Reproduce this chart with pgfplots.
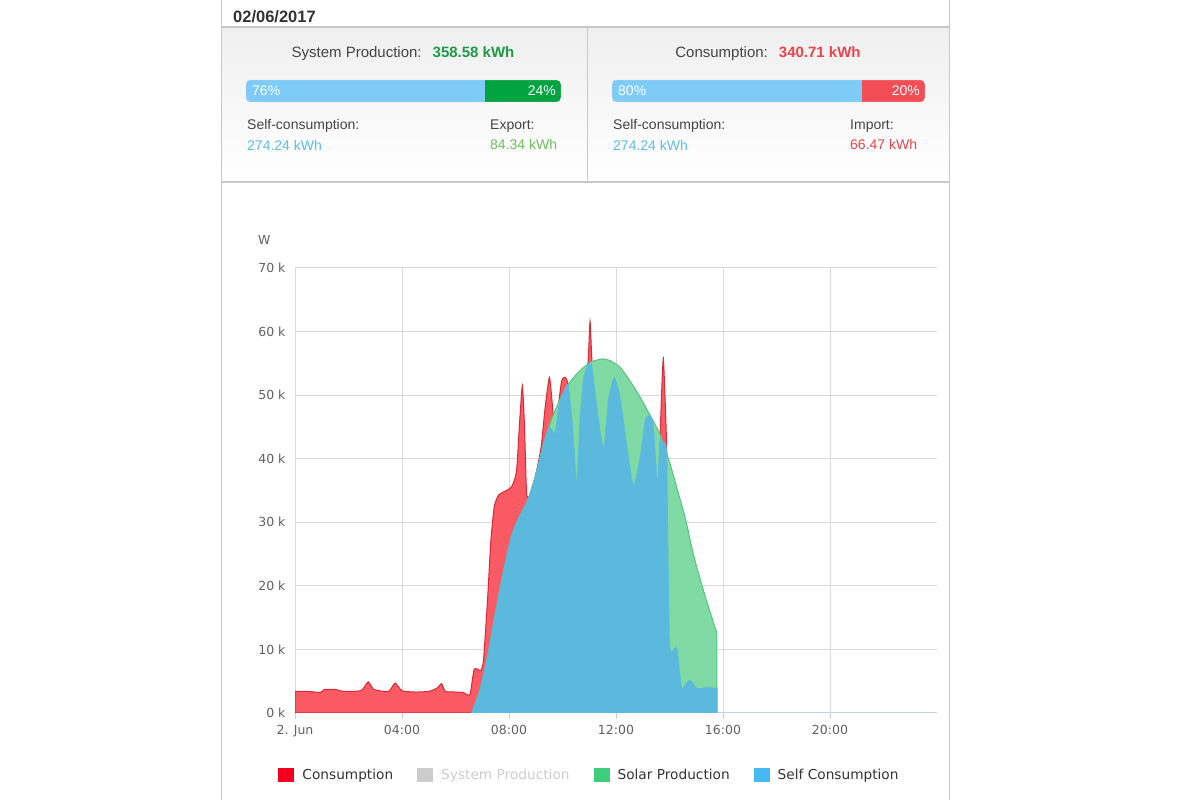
\documentclass[border=0pt]{standalone}
\usepackage{fontspec}
\setmainfont{Liberation Sans}
\newfontfamily\dejavu{DejaVu Sans}
\usepackage{pgfplots}
\pgfplotsset{compat=1.18}
\definecolor{bordergray}{HTML}{C8C8C8}
\definecolor{pnl}{HTML}{EFEFEF}
\definecolor{labtext}{HTML}{444444}
\definecolor{barblue}{HTML}{7DCBF6}
\definecolor{bargreen}{HTML}{01A43F}
\definecolor{barred}{HTML}{F34D55}
\definecolor{valgreen}{HTML}{1E9A44}
\definecolor{valgreen2}{HTML}{6EBF5B}
\definecolor{valblue}{HTML}{5BBFE9}
\definecolor{valred}{HTML}{E8454E}
\definecolor{redfill}{HTML}{FA5A63}
\definecolor{redline}{HTML}{D62A3A}
\definecolor{greenfill}{HTML}{7FDBA3}
\definecolor{greenline}{HTML}{59C482}
\definecolor{bluefill}{HTML}{5BB9DE}
\definecolor{legred}{HTML}{F4001E}
\definecolor{leggray}{HTML}{CCCCCC}
\definecolor{leggreen}{HTML}{3DCD7B}
\definecolor{legblue}{HTML}{48B8F0}
\definecolor{legtext}{HTML}{333333}
\definecolor{gridgray}{HTML}{D9D9D9}
\definecolor{axisblue}{HTML}{C0D0E0}
\definecolor{tickgray}{HTML}{606060}

\pgfplotstableread{
t v
0.00 3.4
0.45 3.4
0.75 3.3
0.95 3.2
1.10 3.7
1.50 3.7
1.80 3.4
2.20 3.4
2.50 3.6
2.74 4.9
2.95 3.7
3.50 3.4
3.74 4.7
4.00 3.5
4.50 3.3
5.00 3.4
5.30 3.9
5.48 4.6
5.62 3.4
6.00 3.3
6.30 3.2
6.54 2.9
6.70 6.9
6.95 6.7
7.05 8.5
7.20 18
7.32 27
7.45 32.5
7.62 34.3
7.90 35
8.10 35.6
8.28 38
8.40 46
8.50 51.5
8.58 45
8.66 34.5
8.80 34.4
9.00 37.5
9.20 41.8
9.35 48
9.51 52.8
9.62 48.5
9.72 44
9.85 48.5
9.97 52.3
10.10 52.8
10.22 51.5
10.38 45
10.53 36.2
10.65 46
10.78 52.5
10.95 55.0
11.03 61.6
11.10 55.5
11.25 49.3
11.53 41.6
11.72 49.3
11.93 52.8
12.15 49.7
12.40 42.3
12.65 35.8
12.90 40.2
13.09 46
13.25 46.8
13.40 45.1
13.55 36.1
13.64 43
13.72 52
13.77 55.8
13.83 50
13.90 40.5
14.00 11
14.27 10.3
14.45 4.0
14.60 4.5
14.77 5.2
15.02 3.9
15.39 4.0
15.77 3.9
}\consumption

\pgfplotstableread{
t v
6.60 0
6.90 3.5
7.20 9
7.50 16
7.80 22.5
8.10 28
8.40 31
8.70 33.5
9.00 37.5
9.30 42.5
9.60 46.3
9.90 49.3
10.20 51.6
10.50 53.2
10.80 54.4
11.10 55.3
11.50 55.7
11.80 55.4
12.15 54.4
12.50 52.4
12.90 49.7
13.25 47
13.64 43.9
14.00 39.5
14.27 35.5
14.60 30.5
14.89 25
15.15 21
15.39 17.6
15.60 14.8
15.77 12.6
}\solar

\pgfplotstableread{
t v
6.60 0
6.90 3.5
7.20 9
7.50 16
7.80 22.5
8.10 28
8.40 31
8.70 33.5
9.00 37.5
9.30 42.5
9.50 45
9.72 44
9.85 48
9.97 49.8
10.10 51
10.22 51.5
10.38 45
10.53 36.2
10.65 46
10.78 52.5
10.95 54.8
11.03 55.0
11.10 54.5
11.25 49.3
11.53 41.6
11.72 49.3
11.93 52.8
12.15 49.7
12.40 42.3
12.65 35.8
12.90 40.2
13.09 46
13.25 46.8
13.40 45.1
13.55 36.1
13.64 43
13.77 42.4
13.90 40.5
14.00 11
14.27 10.3
14.45 4.0
14.60 4.5
14.77 5.2
15.02 3.9
15.39 4.0
15.77 3.9
}\selfcons

\begin{document}
\begin{tikzpicture}[x=1pt,y=1pt]
\path[use as bounding box] (0,0) rectangle (1200,800);
% header panel
\shade[top color=pnl, bottom color=white] (221,618) rectangle (949,773);
\draw[bordergray, line width=1pt] (221,0) -- (221,800);
\draw[bordergray, line width=1pt] (949,0) -- (949,800);
\draw[bordergray, line width=1.5pt] (221,773) -- (949,773);
\draw[bordergray, line width=1.5pt] (221,618) -- (949,618);
\draw[bordergray, line width=1pt] (587,618) -- (587,773);
\node[anchor=west, inner sep=0pt, text=legtext, font=\bfseries\fontsize{16.5}{19}\selectfont] at (233,783.5) {02/06/2017};

\node[anchor=center, font=\fontsize{15}{18}\selectfont, text=labtext] at (403,746.5)
  {System Production:\hspace{11pt}\textcolor{valgreen}{\bfseries 358.58 kWh}};
\node[anchor=center, font=\fontsize{15}{18}\selectfont, text=labtext] at (768,746.5)
  {Consumption:\hspace{11pt}\textcolor{valred}{\bfseries 340.71 kWh}};

% production bar
\begin{scope}
\clip[rounded corners=4pt] (246pt,698pt) rectangle (561pt,720pt);
\begin{axis}[at={(246pt,698pt)}, anchor=south west, scale only axis, width=315pt, height=22pt,
  xbar stacked, bar width=22pt, xmin=0, xmax=100, ymin=0.5, ymax=1.5, hide axis]
\addplot[fill=barblue, draw=none] coordinates {(76,1)};
\addplot[fill=bargreen, draw=none] coordinates {(24,1)};
\end{axis}
\end{scope}
\draw[rounded corners=4pt, black!12] (246,698) rectangle (561,720);
% consumption bar
\begin{scope}
\clip[rounded corners=4pt] (612pt,698pt) rectangle (925pt,720pt);
\begin{axis}[at={(612pt,698pt)}, anchor=south west, scale only axis, width=313pt, height=22pt,
  xbar stacked, bar width=22pt, xmin=0, xmax=100, ymin=0.5, ymax=1.5, hide axis]
\addplot[fill=barblue, draw=none] coordinates {(80,1)};
\addplot[fill=barred, draw=none] coordinates {(20,1)};
\end{axis}
\end{scope}
\draw[rounded corners=4pt, black!12] (612,698) rectangle (925,720);
\begin{scope}[every node/.style={inner sep=0pt, text=white, font=\fontsize{14}{16}\selectfont}]
\node[anchor=west] at (252,709) {76\%};
\node[anchor=east] at (556,709) {24\%};
\node[anchor=west] at (618,709) {80\%};
\node[anchor=east] at (920,709) {20\%};
\end{scope}

\begin{scope}[every node/.style={anchor=west, inner sep=0pt, font=\fontsize{14}{16}\selectfont}]
\node[text=labtext] at (247,674) {Self-consumption:};
\node[text=valblue] at (247,655) {274.24 kWh};
\node[text=labtext] at (490,674) {Export:};
\node[text=valgreen2] at (490,655) {84.34 kWh};
\node[text=labtext] at (613,674) {Self-consumption:};
\node[text=valblue] at (613,655) {274.24 kWh};
\node[text=labtext] at (850,674) {Import:};
\node[text=valred] at (850,655) {66.47 kWh};
\end{scope}

% main chart
\begin{axis}[
  at={(295pt,87pt)}, anchor=south west, scale only axis, width=642pt, height=445pt,
  xmin=0, xmax=24, ymin=0, ymax=70,
  axis x line*=bottom, axis y line*=left,
  x axis line style={draw=axisblue, line width=1pt, -},
  y axis line style={draw=none},
  xtick={0,4,8,12,16,20}, xticklabels={2. Jun,04:00,08:00,12:00,16:00,20:00},
  ytick={0,10,20,30,40,50,60,70},
  yticklabels={0 k,10 k,20 k,30 k,40 k,50 k,60 k,70 k},
  tick align=outside, major tick length=6pt,
  xtick style={draw=axisblue, line width=1pt},
  ytick style={draw=none},
  grid=major, major grid style={draw=gridgray, line width=1pt},
  ticklabel style={font=\dejavu\fontsize{12.5}{14}\selectfont, text=tickgray},
  xticklabel style={yshift=-3pt},
  /pgf/number format/assume math mode=true,
  ylabel={W},
  every axis y label/.style={at={(axis description cs:-0.048,1.063)}, anchor=center,
     font=\dejavu\fontsize{12.5}{14}\selectfont, text=tickgray},
  legend columns=4,
  legend image code/.code={\fill[#1, draw=none] (0pt,-7pt) rectangle (16pt,7pt);},
  legend style={draw=none, fill=none, at={(0.458,-0.139)}, anchor=center,
     font=\dejavu\fontsize{13.7}{16}\selectfont, text=legtext,
     /tikz/every odd column/.append style={column sep=7pt},
     /tikz/every even column/.append style={column sep=23pt},
     nodes={inner sep=1pt}},
]
\addplot[forget plot, fill=redfill, draw=redline, line width=1pt, smooth, tension=0.35]
  table[x=t, y=v] {\consumption} \closedcycle;
\addplot[forget plot, fill=greenfill, draw=greenline, line width=1pt, smooth, tension=0.35]
  table[x=t, y=v] {\solar} \closedcycle;
\addplot[forget plot, fill=bluefill, draw=bluefill, line width=0.5pt, smooth, tension=0.35]
  table[x=t, y=v] {\selfcons} \closedcycle;
\addlegendimage{fill=legred}
\addlegendentry{Consumption}
\addlegendimage{fill=leggray}
\addlegendentry{\textcolor{leggray}{System Production}}
\addlegendimage{fill=leggreen}
\addlegendentry{Solar Production}
\addlegendimage{fill=legblue}
\addlegendentry{Self Consumption}
\end{axis}
\end{tikzpicture}
\end{document}
